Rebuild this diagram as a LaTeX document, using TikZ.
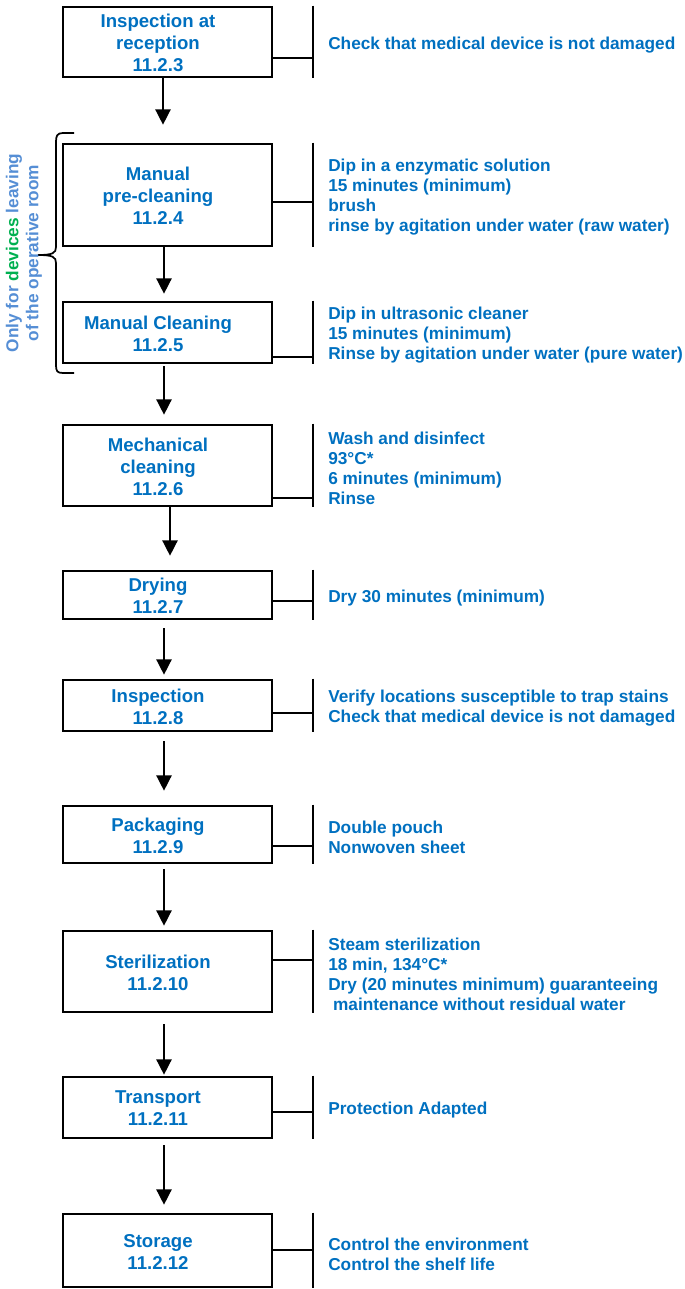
\documentclass[tikz,border=0pt]{standalone}
\usepackage{fontspec}
\setmainfont{Liberation Sans}
\usetikzlibrary{arrows.meta,calc}
\definecolor{mblue}{HTML}{0070C0}
\definecolor{lblue}{HTML}{558ED5}
\definecolor{mgreen}{HTML}{00B050}
\begin{document}
\begin{tikzpicture}[x=0.75pt,y=-0.75pt,
  box/.style={draw=black, line width=2pt, minimum width=156.75pt, inner sep=0pt},
  boxtxt/.style={text=mblue, font=\fontsize{13.95pt}{16.5pt}\selectfont\bfseries, align=center, inner sep=0pt},
  rtxt/.style={text=mblue, font=\fontsize{12.94pt}{15pt}\selectfont\bfseries, align=left, anchor=west, inner sep=0pt},
  sidetxt/.style={text=lblue, font=\fontsize{12.94pt}{15pt}\selectfont\bfseries, align=center, inner sep=0pt},
  arr/.style={-{Triangle[width=11.5pt,length=11.5pt]}, line width=1.1pt},
  conn/.style={line width=1.1pt},
  tickline/.style={line width=1.6pt},
  bracestyle/.style={line width=1.3pt}]
\useasboundingbox (0,0) rectangle (685,1289);

% boxes
\node[box, minimum height=52.5pt]  (b1)  at (167.5,42)     {};
\node[box, minimum height=76.5pt]  (b2)  at (167.5,195)    {};
\node[box, minimum height=45.75pt] (b3)  at (167.5,332.5)  {};
\node[box, minimum height=60.75pt] (b4)  at (167.5,465.5)  {};
\node[box, minimum height=36pt]    (b5)  at (167.5,595)    {};
\node[box, minimum height=38.25pt] (b6)  at (167.5,705.5)  {};
\node[box, minimum height=42.75pt] (b7)  at (167.5,834.5)  {};
\node[box, minimum height=60.75pt] (b8)  at (167.5,971.5)  {};
\node[box, minimum height=45.75pt] (b9)  at (167.5,1107.5) {};
\node[box, minimum height=54.75pt] (b10) at (167.5,1250.5) {};

% box texts
\node[boxtxt] (t1)  at (158,43)     {Inspection at\\reception\\11.2.3};
\node[boxtxt] (t2)  at (158,196)    {Manual\\pre-cleaning\\11.2.4};
\node[boxtxt] (t3)  at (158,334)    {Manual Cleaning\\11.2.5};
\node[boxtxt] (t4)  at (158,466.5)  {Mechanical\\cleaning\\11.2.6};
\node[boxtxt] (t5)  at (158,596)    {Drying\\11.2.7};
\node[boxtxt] (t6)  at (158,706.5)  {Inspection\\11.2.8};
\node[boxtxt] (t7)  at (158,835.5)  {Packaging\\11.2.9};
\node[boxtxt] (t8)  at (158,972.5)  {Sterilization\\11.2.10};
\node[boxtxt] (t9)  at (158,1108.5) {Transport\\11.2.11};
\node[boxtxt] (t10) at (158,1251.5) {Storage\\11.2.12};

% arrows
\draw[arr] ($(b1.south)+(-4.5,0)$) -- ($(b2.north)+(-4.5,-18)$);
\draw[arr] ($(b2.south)+(-3.5,0)$) -- ($(b3.north)+(-3.5,-7)$);
\draw[arr] ($(b3.south)+(-3.5,2)$) -- ($(b4.north)+(-3.5,-9)$);
\draw[arr] ($(b4.south)+(2.5,0)$) -- ($(b5.north)+(2.5,-14)$);
\draw[arr] ($(b5.south)+(-3.5,8)$) -- ($(b6.north)+(-3.5,-4)$);
\draw[arr] ($(b6.south)+(-3.5,9)$) -- ($(b7.north)+(-3.5,-14)$);
\draw[arr] ($(b7.south)+(-3.5,5)$) -- ($(b8.north)+(-3.5,-4)$);
\draw[arr] ($(b8.south)+(-3.5,11)$) -- ($(b9.north)+(-3.5,-1)$);
\draw[arr] ($(b9.south)+(-3.5,6)$) -- ($(b10.north)+(-3.5,-8)$);

% right-side ticks and connectors
\coordinate (k1)  at (313,58);
\coordinate (k2)  at (313,202);
\coordinate (k3)  at (313,357);
\coordinate (k4)  at (313,498);
\coordinate (k5)  at (313,601);
\coordinate (k6)  at (313,713);
\coordinate (k7)  at (313,846);
\coordinate (k8)  at (313,960);
\coordinate (k9)  at (313,1112);
\coordinate (k10) at (313,1250);
\foreach \i in {1,...,10}{
  \draw[tickline] (b\i.north east -| k\i) -- (b\i.south east -| k\i);
  \draw[conn] (b\i.east |- k\i) -- (k\i);
}

% right texts
\node[rtxt] (r1)  at (328,45)   {Check that medical device is not damaged};
\node[rtxt] (r2)  at (328,197)  {Dip in a enzymatic solution\\15 minutes (minimum)\\brush\\rinse by agitation under water (raw water)};
\node[rtxt] (r3)  at (328,335)  {Dip in ultrasonic cleaner\\15 minutes (minimum)\\Rinse by agitation under water (pure water)};
\node[rtxt] (r4)  at (328,468)  {Wash and disinfect\\93°C*\\6 minutes (minimum)\\Rinse};
\node[rtxt] (r5)  at (328,598)  {Dry 30 minutes (minimum)};
\node[rtxt] (r6)  at (328,708)  {Verify locations susceptible to trap stains\\Check that medical device is not damaged};
\node[rtxt] (r7)  at (328,837)  {Double pouch\\Nonwoven sheet};
\node[rtxt] (r8)  at (328,974)  {Steam sterilization\\18 min, 134°C*\\Dry (20 minutes minimum) guaranteeing\\\hspace*{0.28em}maintenance without residual water};
\node[rtxt] (r9)  at (328,1110) {Protection Adapted};
\node[rtxt] (r10) at (328,1254) {Control the environment\\Control the shelf life};

% brace
\draw[bracestyle] (74,133) -- (63,133) .. controls (57,133) and (56,136) .. (56,142)
  -- (56,247) .. controls (56,253) and (53,255) .. (38,255)
  .. controls (53,255) and (56,257) .. (56,263)
  -- (56,365) .. controls (56,371) and (57,373) .. (63,373) -- (74,373);

% side label
\node[sidetxt, rotate=90] (side) at (24,253) {Only for \textcolor{mgreen}{devices} leaving\\of the operative room};
\end{tikzpicture}
\end{document}
